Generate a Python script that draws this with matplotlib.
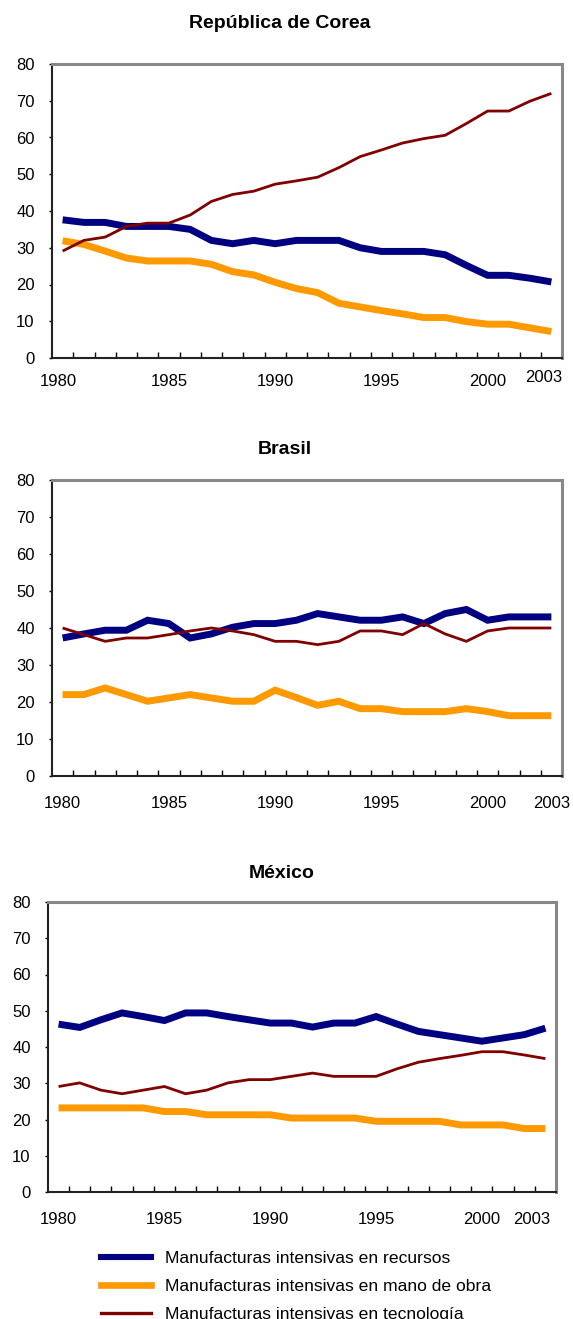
import matplotlib
matplotlib.use("Agg")
import matplotlib.pyplot as plt
from matplotlib.lines import Line2D
import numpy as np

plt.rcParams['font.family'] = ['Liberation Sans', 'DejaVu Sans']

years = list(range(1980, 2004))
label_years = [1980, 1985, 1990, 1995, 2000, 2003]
series_names = ["Manufacturas intensivas en recursos",
                "Manufacturas intensivas en mano de obra",
                "Manufacturas intensivas en tecnología"]

# República de Corea
kor_recursos = [37.6, 36.9, 36.9, 35.8, 35.8, 35.8, 35.0, 32.0, 31.1, 32.0, 31.1, 32.0,
                32.0, 32.0, 30.0, 29.0, 29.0, 29.0, 28.1, 25.2, 22.5, 22.5, 21.7, 20.7]
kor_mano = [31.9, 30.9, 29.1, 27.2, 26.4, 26.4, 26.4, 25.5, 23.5, 22.6, 20.6, 18.9,
            17.8, 14.9, 13.9, 12.9, 12.0, 11.0, 11.0, 9.9, 9.2, 9.2, 8.2, 7.2]
kor_tecno = [29.1, 32.0, 32.9, 35.8, 36.7, 36.7, 38.9, 42.6, 44.5, 45.4, 47.3, 48.2,
             49.2, 51.8, 54.8, 56.6, 58.5, 59.7, 60.6, 63.8, 67.2, 67.2, 69.9, 72.0]

# Brasil
bra_recursos = [37.3, 38.4, 39.4, 39.4, 42.1, 41.2, 37.3, 38.4, 40.2, 41.2, 41.2, 42.1,
                43.9, 43.0, 42.1, 42.1, 43.0, 41.2, 43.9, 45.0, 42.1, 43.0, 43.0, 43.0]
bra_mano = [22.0, 22.0, 23.8, 22.0, 20.2, 21.1, 22.0, 21.1, 20.2, 20.2, 23.2, 21.2,
            19.1, 20.2, 18.2, 18.2, 17.4, 17.4, 17.4, 18.2, 17.4, 16.3, 16.3, 16.3]
bra_tecno = [40.0, 38.2, 36.4, 37.3, 37.3, 38.2, 39.2, 40.0, 39.2, 38.2, 36.4, 36.4,
             35.5, 36.4, 39.2, 39.2, 38.2, 41.2, 38.4, 36.4, 39.2, 40.0, 40.0, 40.0]

# México
mex_recursos = [46.3, 45.4, 47.5, 49.4, 48.4, 47.3, 49.4, 49.4, 48.4, 47.5, 46.6, 46.6,
                45.5, 46.6, 46.6, 48.4, 46.3, 44.3, 43.4, 42.5, 41.6, 42.5, 43.4, 45.2]
mex_mano = [23.2, 23.2, 23.2, 23.2, 23.2, 22.2, 22.2, 21.3, 21.3, 21.3, 21.3, 20.4,
            20.4, 20.4, 20.4, 19.5, 19.5, 19.5, 19.5, 18.5, 18.5, 18.5, 17.5, 17.5]
mex_tecno = [29.1, 30.1, 28.1, 27.1, 28.1, 29.1, 27.1, 28.1, 30.1, 31.0, 31.0, 31.9,
             32.8, 31.9, 31.9, 31.9, 34.0, 35.8, 36.8, 37.7, 38.7, 38.7, 37.8, 36.8]

colors = ['#000080', '#FF9900', '#800000']
widths = [5.0, 5.0, 2.0]

panels = [
    ("República de Corea", [kor_recursos, kor_mano, kor_tecno]),
    ("Brasil", [bra_recursos, bra_mano, bra_tecno]),
    ("México", [mex_recursos, mex_mano, mex_tecno]),
]

W, H = 573, 1319
fig = plt.figure(figsize=(W / 100, H / 100), dpi=100)

# axes boxes in pixels: left, top, right, bottom
boxes = [(52, 64, 562, 358), (52, 480, 562, 776), (48, 902, 556, 1192)]
title_xy = [(280, 23), (285, 450), (282, 874)]
label_drop = [24, 27, 28]
# small shifts of some year labels (px), as in the original
label_shift = [{0: (-4, 0), 5: (-8, 5)}, {}, {5: (-14, 0)}]

x = np.arange(len(years))
for k, (title, data) in enumerate(panels):
    l, t, r, b = boxes[k]
    ax = fig.add_axes([l / W, 1 - b / H, (r - l) / W, (b - t) / H])
    for vals, c, lw in zip(data, colors, widths):
        ax.plot(x, vals, color=c, lw=lw, solid_joinstyle='miter', solid_capstyle='butt')
    ax.set_xlim(-0.5, len(years) - 0.5)
    ax.set_ylim(0, 80)
    ax.set_yticks(range(0, 90, 10))
    ax.tick_params(axis='y', direction='out', length=2.5, width=1, labelsize=12, pad=10)
    ax.set_xticks(x[:-1] + 0.5)
    ax.set_xticklabels([])
    ax.tick_params(axis='x', direction='in', length=4, width=1)
    for s in ['left', 'bottom']:
        ax.spines[s].set_color('#222222')
        ax.spines[s].set_linewidth(1.5)
    for s in ['top', 'right']:
        ax.spines[s].set_color('#888888')
        ax.spines[s].set_linewidth(2.2)
    for j, yr in enumerate(label_years):
        dx, dy = label_shift[k].get(j, (0, 0))
        ax.annotate(str(yr), xy=(years.index(yr), 0), xycoords=('data', 'axes fraction'),
                    xytext=(dx * 0.72, (-label_drop[k] + dy) * 0.72), textcoords='offset points',
                    ha='center', va='center', fontsize=12)
    tx, ty = title_xy[k]
    fig.text(tx / W, 1 - ty / H, title, ha='center', va='center', fontsize=14, fontweight='bold')

handles = [Line2D([], [], color=c, lw=w) for c, w in zip(colors, [4.4, 4.8, 2.4])]
fig.legend(handles, series_names, loc='upper left', bbox_to_anchor=(101 / W, 1 - 1251 / H),
           frameon=False, fontsize=12.6, handlelength=2.86, handletextpad=0.8,
           labelspacing=0.72, borderpad=0, borderaxespad=0)

fig.savefig("out.png", dpi=100)
